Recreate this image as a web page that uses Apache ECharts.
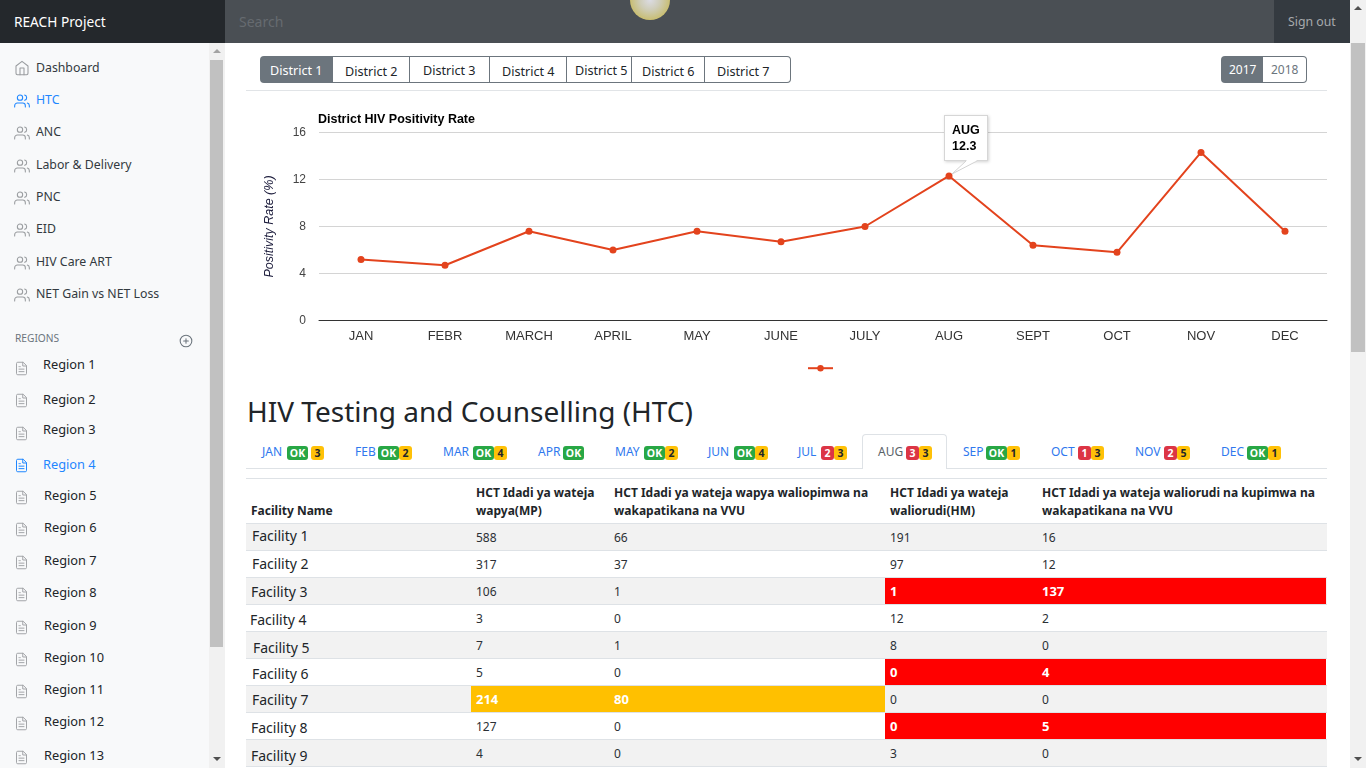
<!DOCTYPE html>
<html><head><meta charset="utf-8">
<script src="https://cdn.jsdelivr.net/npm/echarts@6/dist/echarts.min.js"></script>
<style>
html,body{margin:0;padding:0;width:1366px;height:768px;overflow:hidden;background:#fff;font-family:"Noto Sans",sans-serif;color:#212529}
.a{position:absolute;white-space:nowrap}
.m{transform:translateY(-50%);line-height:1}
.bad{position:absolute;top:446px;height:14px;border-radius:3px;font-size:10.5px;font-weight:700;line-height:14px;text-align:center}
</style></head><body>
<div id="root"></div>
<div id="chart" class="a" style="left:246px;top:95px;width:1100px;height:285px"></div>
<script>
// Chart data
const months = ['JAN','FEBR','MARCH','APRIL','MAY','JUNE','JULY','AUG','SEPT','OCT','NOV','DEC'];
const positivity = [5.2,4.7,7.6,6.0,7.6,6.7,8.0,12.3,6.4,5.8,14.3,7.6];
const yTicks = [0,4,8,12,16];
// Page text data
const navItems = ['Dashboard','HTC','ANC','Labor & Delivery','PNC','EID','HIV Care ART','NET Gain vs NET Loss'];
const regions = ['Region 1','Region 2','Region 3','Region 4','Region 5','Region 6','Region 7','Region 8','Region 9','Region 10','Region 11','Region 12','Region 13'];
const districts = ['District 1','District 2','District 3','District 4','District 5','District 6','District 7'];
const tabMonths = ['JAN','FEB','MAR','APR','MAY','JUN','JUL','AUG','SEP','OCT','NOV','DEC'];
const tabOk = [1,1,1,1,1,1,0,0,1,0,0,1];
const tabRed = [0,0,0,0,0,0,2,3,0,1,2,0];
const tabAmber = [3,2,4,0,2,4,3,3,1,3,5,1];
const facilities = ['Facility 1','Facility 2','Facility 3','Facility 4','Facility 5','Facility 6','Facility 7','Facility 8','Facility 9'];
const colMP = [588,317,106,3,7,5,214,127,4];
const colMPPos = [66,37,1,0,1,0,80,0,0];
const colHM = [191,97,1,12,8,0,0,0,3];
const colHMPos = [16,12,137,2,0,4,0,5,0];

const root = document.getElementById('root');
function box(l,t,w,h,bg,extra){const d=document.createElement('div');d.className='a';d.style.cssText=`left:${l}px;top:${t}px;width:${w}px;height:${h}px;background:${bg};${extra||''}`;root.appendChild(d);return d;}
function txt(s,l,cy,size,color,extra){const d=document.createElement('div');d.className='a m';d.textContent=s;d.style.cssText=`left:${l}px;top:${cy}px;font-size:${size}px;color:${color};${extra||''}`;root.appendChild(d);return d;}
function svg(inner,l,cy,sz,color,vb){const d=document.createElement('div');d.className='a';d.style.cssText=`left:${l}px;top:${cy-sz/2}px;width:${sz}px;height:${sz}px`;d.innerHTML=`<svg width="${sz}" height="${sz}" viewBox="0 0 24 24" fill="none" stroke="${color}" stroke-width="${vb||1.6}" stroke-linecap="round" stroke-linejoin="round">${inner}</svg>`;root.appendChild(d);}
const icHome='<path d="M3 9l9-7 9 7v11a2 2 0 0 1-2 2H5a2 2 0 0 1-2-2z"/><polyline points="9 22 9 12 15 12 15 22"/>';
const icUsers='<path d="M17 21v-2a4 4 0 0 0-4-4H5a4 4 0 0 0-4 4v2"/><circle cx="9" cy="7" r="4"/><path d="M23 21v-2a4 4 0 0 0-3-3.87"/><path d="M16 3.13a4 4 0 0 1 0 7.75"/>';
const icFile='<path d="M14 2H6a2 2 0 0 0-2 2v16a2 2 0 0 0 2 2h12a2 2 0 0 0 2-2V8z"/><polyline points="14 2 14 8 20 8"/><line x1="16" y1="13" x2="8" y2="13"/><line x1="16" y1="17" x2="8" y2="17"/><polyline points="10 9 9 9 8 9"/>';
const icPlus='<circle cx="12" cy="12" r="10"/><line x1="12" y1="8" x2="12" y2="16"/><line x1="8" y1="12" x2="16" y2="12"/>';

// Top bar
box(0,0,225,43,'#24282c');
box(225,0,1125,43,'#4a4f54');
box(1274,0,76,43,'#343a40');
box(630,-20,40,40,'radial-gradient(circle at 50% 50%,#dcdce4 0%,#cfcdb8 35%,#c9c07e 65%,#d6bf42 90%,#b8a52e 100%)','border-radius:50%');
txt('REACH Project',14,22,13.7,'#fff');
txt('Search',239,22,14,'#666b70');
txt('Sign out',1288,21.5,12.3,'#a6a9ac');

// Sidebar
box(0,43,225,725,'#f8f9fa');
box(209,43,16,725,'#f1f1f1');
box(210,60,13,587,'#c1c1c1');
box(213,49,0,0,'transparent','border-left:4px solid transparent;border-right:4px solid transparent;border-bottom:4px solid #a3a3a3');
box(213,757,0,0,'transparent','border-left:4px solid transparent;border-right:4px solid transparent;border-top:4px solid #505050');
const navY=[67,99,131,164,196,228,261,293];
navItems.forEach((s,i)=>{const c=i===1?'#1f87ff':'#333a40';
  svg(i===0?icHome:icUsers,14,navY[i]+(i===0?0:1),16,i===1?'#1f87ff':'#9a9da0');
  txt(s,36,navY[i]+1,12.3,c);});
txt('REGIONS',15,338,10.2,'#6c757d');
svg(icPlus,179,338,14,'#6c757d',1.8);
const regY=[364,399,429,464,495,527,560,592,625,657,689,721,755];
const regIc=[366,398,431,463,495,527,560,592,625,657,689,721,755];
const regX=[43,43,43,43,44,44,44,44,44,44,44,44,44];
regions.forEach((s,i)=>{const on=i===3;
  svg(icFile,14,regIc[i],15,on?'#1f87ff':'#a3a5a8');
  txt(s,regX[i],regY[i],12.8,on?'#1f87ff':'#212529');});

// Page scrollbar
box(1350,0,16,768,'#f1f1f1');
box(1351,43,14,309,'#c1c1c1');
box(1354,6,0,0,'transparent','border-left:4px solid transparent;border-right:4px solid transparent;border-bottom:4px solid #505050');
box(1354,757,0,0,'transparent','border-left:4px solid transparent;border-right:4px solid transparent;border-top:4px solid #505050');

// District buttons
const dBx=[[260,333],[333,410],[410,490],[490,567],[567,632],[632,705],[705,791]];
const dTx=[270,345,423,502,575,642,717];
dBx.forEach((b,i)=>{
  const on=i===0;
  box(b[0],56,b[1]-b[0],27,on?'#6c757d':'#fff','box-sizing:border-box;'+(on?'border-radius:4px 0 0 4px':'border:1px solid #6c757d;border-left:0;'+(i===6?'border-radius:0 4px 4px 0':'')));
  txt(districts[i],dTx[i],(i===2||i===4?70:(on?70:71))+1,12.6,on?'#fff':'#212529');
});
box(1221,56,42,27,'#6c757d','border-radius:4px 0 0 4px');
box(1263,56,44,27,'#fff','box-sizing:border-box;border:1px solid #6c757d;border-left:0;border-radius:0 4px 4px 0');
txt('2017',1229,69.5,12,'#fff');
txt('2018',1271,69.5,12,'#6c757d');
box(246,90,1081,1,'#e1e4e7');

// Heading
txt('HIV Testing and Counselling (HTC)',247,411,28,'#212529');

// Tabs
box(246,468,1081,1,'#dee2e6');
box(862,434,85,35,'#fff','box-sizing:border-box;border:1px solid #dee2e6;border-bottom:0;border-radius:4px 4px 0 0');
const tabX=[262,355,443,538,615,708,798,878,963,1051,1135,1221];
const tabBadgeX=[287,378,473,563,644,734,821,906,986,1078,1164,1247];
tabMonths.forEach((s,i)=>{
  txt(s,tabX[i],451.5,12,i===7?'#5a6268':'#2f78ee');
  let x=tabBadgeX[i];
  const b=(label,w,bg,col)=>{const d=document.createElement('div');d.className='bad';d.textContent=label;d.style.cssText=`left:${x}px;width:${w}px;background:${bg};color:${col}`;root.appendChild(d);x+=w;};
  if(tabOk[i]) b('OK',21,'#28a745','#fff');
  if(tabRed[i]) b(String(tabRed[i]),13,'#dc3545','#fff');
  if(i===0) x+=3;
  if(tabAmber[i]) b(String(tabAmber[i]),13,'#ffc107','#212529');
});

// Table
box(246,478,1081,1,'#dee2e6');
const H='font-weight:700';
txt('Facility Name',251,511,12,'#212529',H);
txt('HCT Idadi ya wateja',476,493,12,'#212529',H);
txt('wapya(MP)',476,511,12,'#212529',H);
txt('HCT Idadi ya wateja wapya waliopimwa na',614,493,12,'#212529',H);
txt('wakapatikana na VVU',614,511,12,'#212529',H);
txt('HCT Idadi ya wateja',890,493,12,'#212529',H);
txt('waliorudi(HM)',890,511,12,'#212529',H);
txt('HCT Idadi ya wateja waliorudi na kupimwa na',1042,493,12,'#212529',H);
txt('wakapatikana na VVU',1042,511,12,'#212529',H);
box(246,523,1081,1,'#dee2e6');
const rowH=27, rowTop=523.5;
const facX=[252,252,251,250,253,252,252,251,251];
const facY=[536,564,592,620,648,674,700,728,756];
const amberRows=[6], redRows=[2,5,7];
facilities.forEach((s,i)=>{
  const t=Math.round(rowTop+i*rowH);
  if(i%2===0) box(246,t,1081,rowH,'#f2f2f2');
  box(246,t+rowH-1,1081,1,'#dee2e6');
  if(amberRows.includes(i)) box(471,t,414,rowH-1,'#ffc000');
  if(redRows.includes(i)) box(885,t,441,rowH-1,'#ff0000');
  txt(s,facX[i],facY[i],14,'#212529');
  const cy=537+i*27;
  const am=amberRows.includes(i), rd=redRows.includes(i);
  const S=(v,x,hot)=>txt(String(v),x,hot?cy:cy+1,12,hot?'#fff':'#2b3035',hot?'font-weight:700;font-size:13px':'');
  S(colMP[i],476,am);S(colMPPos[i],614,am);S(colHM[i],890,rd);S(colHMPos[i],1042,rd);
});

// Chart
const lineColor='#e3431d';
const chart=echarts.init(document.getElementById('chart'));
chart.setOption({
  animation:false,
  title:{text:'District HIV Positivity Rate',left:72,top:18,padding:0,textStyle:{fontFamily:'Liberation Sans',fontSize:12.5,fontWeight:'bold',color:'#000'}},
  legend:{data:[' '],left:556,top:265,itemWidth:25,itemHeight:8,itemGap:0,textStyle:{fontSize:1,color:'transparent'},selectedMode:false},
  grid:{left:73,top:37.5,width:1008,height:188,containLabel:false},
  tooltip:{
    trigger:'item',alwaysShowContent:true,transitionDuration:0,showContent:true,
    backgroundColor:'transparent',borderWidth:0,padding:0,extraCssText:'box-shadow:none;',
    formatter:p=>`<div style="position:relative;width:44px;height:46px;box-sizing:border-box;background:#fff;border:1px solid #d6d6d6;box-shadow:1px 1px 3px rgba(0,0,0,.18);padding:6px 0 0 7px;font:bold 12.5px/16px 'Liberation Sans';color:#000">${p.name}<br>${p.value}<svg width="44" height="60" style="position:absolute;left:-1px;top:-1px;overflow:visible"><path d="M33 46L8 59L22 46" fill="#fff" stroke="#d2d2d2"/><line x1="22.5" y1="45.5" x2="32.5" y2="45.5" stroke="#fff" stroke-width="1.2"/></svg></div>`,
    position:(pt)=>[pt[0]-5,pt[1]-61]
  },
  xAxis:{type:'category',data:months,boundaryGap:true,
    axisLine:{lineStyle:{color:'#333',width:1}},axisTick:{show:false},
    axisLabel:{fontFamily:'Liberation Sans',fontSize:13,color:'#333',margin:9,interval:0}},
  yAxis:{type:'value',min:0,max:16,interval:4,
    name:'Positivity Rate (%)',nameLocation:'middle',nameGap:43,nameRotate:90,
    nameTextStyle:{fontFamily:'Liberation Sans',fontSize:12.5,fontStyle:'italic',color:'#1a1a3a'},
    axisLine:{show:false},axisTick:{show:false},
    axisLabel:{fontFamily:'Liberation Sans',fontSize:12,color:'#444',margin:13,padding:[2,0,0,0],
      customValues:yTicks},
    splitLine:{lineStyle:{color:'#d4d4d4',width:1}}},
  series:[{name:' ',type:'line',data:positivity,smooth:false,symbol:'circle',symbolSize:7,
    lineStyle:{color:lineColor,width:2},itemStyle:{color:lineColor},
    emphasis:{scale:1.2}}]
});
chart.dispatchAction({type:'showTip',seriesIndex:0,dataIndex:7});
</script>
</body></html>
